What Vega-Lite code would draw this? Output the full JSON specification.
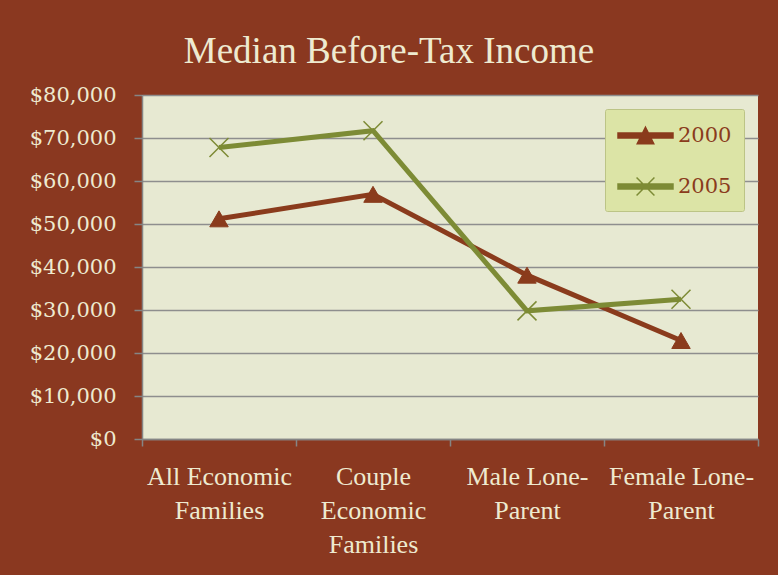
{
  "$schema": "https://vega.github.io/schema/vega-lite/v6.json",
  "width": 616,
  "height": 344,
  "autosize": {"type": "none"},
  "padding": {"left": 142, "top": 95, "right": 20, "bottom": 136},
  "background": "#8A3820",
  "title": {
    "text": "Median Before-Tax Income",
    "font": "Liberation Serif",
    "fontSize": 37,
    "fontWeight": "normal",
    "color": "#EEEAD0",
    "anchor": "middle",
    "dx": -61,
    "dy": 38,
    "baseline": "alphabetic",
    "offset": 22
  },
  "config": {
    "view": {"fill": "#E7E9D2", "stroke": null}
  },
  "data": {
    "values": [
      {"group": "All Economic Families", "year": "2000", "income": 51200},
      {"group": "Couple Economic Families", "year": "2000", "income": 56900},
      {"group": "Male Lone-Parent", "year": "2000", "income": 38100},
      {"group": "Female Lone-Parent", "year": "2000", "income": 22900},
      {"group": "All Economic Families", "year": "2005", "income": 67800},
      {"group": "Couple Economic Families", "year": "2005", "income": 71700},
      {"group": "Male Lone-Parent", "year": "2005", "income": 29800},
      {"group": "Female Lone-Parent", "year": "2005", "income": 32500}
    ]
  },
  "encoding": {
    "x": {
      "field": "group",
      "type": "nominal",
      "sort": null,
      "scale": {"type": "band", "paddingInner": 0, "paddingOuter": 0},
      "axis": {
        "title": null,
        "tickBand": "extent",
        "labelAngle": 0,
        "labelFont": "Liberation Serif",
        "labelFontSize": 26,
        "labelColor": "#EEEAD0",
        "labelLineHeight": 34,
        "labelBaseline": "top",
        "labelPadding": 17,
        "labelOverlap": false,
        "labelLimit": 300,
        "labelExpr": "datum.value == 'All Economic Families' ? ['All Economic','Families'] : datum.value == 'Couple Economic Families' ? ['Couple','Economic','Families'] : datum.value == 'Male Lone-Parent' ? ['Male Lone-','Parent'] : datum.value == 'Female Lone-Parent' ? ['Female Lone-','Parent'] : ''",
        "domainColor": "#858585",
        "domainWidth": 1.5,
        "tickColor": "#858585",
        "tickWidth": 1.5,
        "tickSize": 7,
        "grid": false
      }
    },
    "y": {
      "field": "income",
      "type": "quantitative",
      "scale": {"domain": [0, 80000], "nice": false},
      "axis": {
        "title": null,
        "values": [0, 10000, 20000, 30000, 40000, 50000, 60000, 70000, 80000],
        "format": "$,.0f",
        "labelFont": "DejaVu Serif",
        "labelFontSize": 21,
        "labelColor": "#EEEAD0",
        "labelPadding": 18,
        "domainColor": "#858585",
        "domainWidth": 1.5,
        "tickColor": "#858585",
        "tickWidth": 1.5,
        "tickSize": 8,
        "grid": true,
        "gridColor": "#8E8E8E",
        "gridWidth": 1.5
      }
    }
  },
  "layer": [
    {
      "mark": {"type": "line", "strokeWidth": 5},
      "encoding": {
        "color": {
          "field": "year",
          "type": "nominal",
          "scale": {"domain": ["2000", "2005"], "range": ["#8A3B1C", "#7D8B35"]},
          "legend": {
            "title": null,
            "orient": "top-right",
            "offset": 14,
            "padding": 12,
            "rowPadding": 25,
            "fillColor": "#DCE4A6",
            "strokeColor": "#BCC486",
            "cornerRadius": 2,
            "symbolSize": 756,
            "symbolOffset": 14,
            "labelOffset": 18,
            "symbolStrokeWidth": 1.5,
            "labelFont": "DejaVu Serif",
            "labelFontSize": 21,
            "labelColor": "#8A3B1C",
            "encode": {
              "symbols": {
                "update": {
                  "shape": {"signal": "datum.value === '2000' ? 'M-2,-0.18L2,-0.18L2,0.18L-2,0.18Z M0,-0.6L0.6,0.6L-0.6,0.6Z' : 'M-2,-0.18L2,-0.18L2,0.18L-2,0.18Z M-0.65,-0.65L0.65,0.65M-0.65,0.65L0.65,-0.65'"},
                  "fill": {"signal": "datum.value === '2000' ? '#8A3B1C' : '#7D8B35'"},
                  "stroke": {"signal": "datum.value === '2000' ? '#8A3B1C' : '#7D8B35'"},
                  "strokeWidth": {"value": 1.5},
                  "size": {"value": 756},
                  "opacity": {"value": 1}
                }
              }
            }
          }
        }
      }
    },
    {
      "transform": [{"filter": "datum.year === '2000'"}],
      "mark": {"type": "point", "shape": "triangle-up", "filled": true, "opacity": 1, "fill": "#8A3B1C", "stroke": "#8A3B1C", "strokeWidth": 1, "size": 340}
    },
    {
      "transform": [{"filter": "datum.year === '2005'"}],
      "mark": {"type": "point", "shape": "M-1,-1L1,1M-1,1L1,-1", "filled": false, "opacity": 1, "stroke": "#7D8B35", "strokeWidth": 1.5, "size": 360}
    }
  ]
}
